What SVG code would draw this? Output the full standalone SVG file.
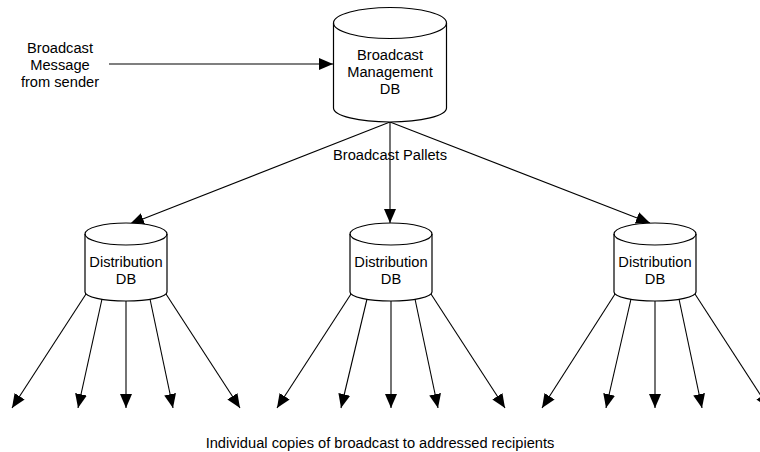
<svg xmlns="http://www.w3.org/2000/svg" width="760" height="452" viewBox="0 0 760 452">
<style>
  .shape { fill: #ffffff; stroke: #000000; stroke-width: 1.2; }
  .rim { fill: none; stroke: #000000; stroke-width: 1.2; }
  .conn { fill: none; stroke: #000000; stroke-width: 1.1; marker-end: url(#arr); }
  text { font-family: "Liberation Sans", Arial, sans-serif; font-size: 14.67px; fill: #000000; text-anchor: middle; }
</style>
<defs>
  <marker id="arr" markerWidth="14" markerHeight="12" refX="14" refY="6" orient="auto" markerUnits="userSpaceOnUse">
    <path d="M0,0 L14,6 L0,12 Z" fill="#000000"/>
  </marker>
  <g id="dbcyl">
    <path class="shape" d="M-41,0 A41,11 0 0 1 41,0 L41,58 A41,9 0 0 1 -41,58 Z"/>
    <path class="rim" d="M-41,0 A41,11 0 0 0 41,0"/>
  </g>
</defs>

<g id="connectors">
  <line class="conn" x1="109" y1="64" x2="333" y2="64"/>
  <line class="conn" x1="390" y1="122" x2="130" y2="224"/>
  <line class="conn" x1="390" y1="122" x2="390" y2="223"/>
  <line class="conn" x1="390" y1="122" x2="650" y2="223"/>

  <line class="conn" x1="86" y1="294" x2="12" y2="408"/>
  <line class="conn" x1="102" y1="299" x2="78" y2="408"/>
  <line class="conn" x1="126" y1="301" x2="126" y2="408"/>
  <line class="conn" x1="150" y1="299" x2="173" y2="408"/>
  <line class="conn" x1="166" y1="294" x2="240" y2="408"/>

  <line class="conn" x1="351" y1="294" x2="277" y2="408"/>
  <line class="conn" x1="367" y1="299" x2="341" y2="408"/>
  <line class="conn" x1="391" y1="301" x2="391" y2="408"/>
  <line class="conn" x1="415" y1="299" x2="438" y2="408"/>
  <line class="conn" x1="431" y1="294" x2="505" y2="408"/>

  <line class="conn" x1="615" y1="294" x2="542" y2="408"/>
  <line class="conn" x1="631" y1="299" x2="606" y2="408"/>
  <line class="conn" x1="655" y1="301" x2="655" y2="408"/>
  <line class="conn" x1="679" y1="299" x2="702" y2="408"/>
  <line class="conn" x1="695" y1="294" x2="769" y2="408"/>
</g>

<g id="sender-label">
  <text x="60" y="53">Broadcast</text>
  <text x="60" y="70">Message</text>
  <text x="60" y="87">from sender</text>
</g>

<g id="mgmt-db">
  <path class="shape" d="M333.5,23 A56.5,15.5 0 0 1 446.5,23 L446.5,108 A56.5,14 0 0 1 333.5,108 Z"/>
  <path class="rim" d="M333.5,23 A56.5,15.5 0 0 0 446.5,23"/>
  <text x="390" y="60">Broadcast</text>
  <text x="390" y="77">Management</text>
  <text x="390" y="94">DB</text>
</g>

<g id="pallets-label">
  <text x="390" y="160">Broadcast Pallets</text>
</g>

<g id="dist-db-1">
  <use href="#dbcyl" x="126" y="234"/>
  <text x="126" y="267">Distribution</text>
  <text x="126" y="284">DB</text>
</g>
<g id="dist-db-2">
  <use href="#dbcyl" x="391" y="234"/>
  <text x="391" y="267">Distribution</text>
  <text x="391" y="284">DB</text>
</g>
<g id="dist-db-3">
  <use href="#dbcyl" x="655" y="234"/>
  <text x="655" y="267">Distribution</text>
  <text x="655" y="284">DB</text>
</g>

<g id="recipients-label">
  <text x="380" y="448">Individual copies of broadcast to addressed recipients</text>
</g>
</svg>
